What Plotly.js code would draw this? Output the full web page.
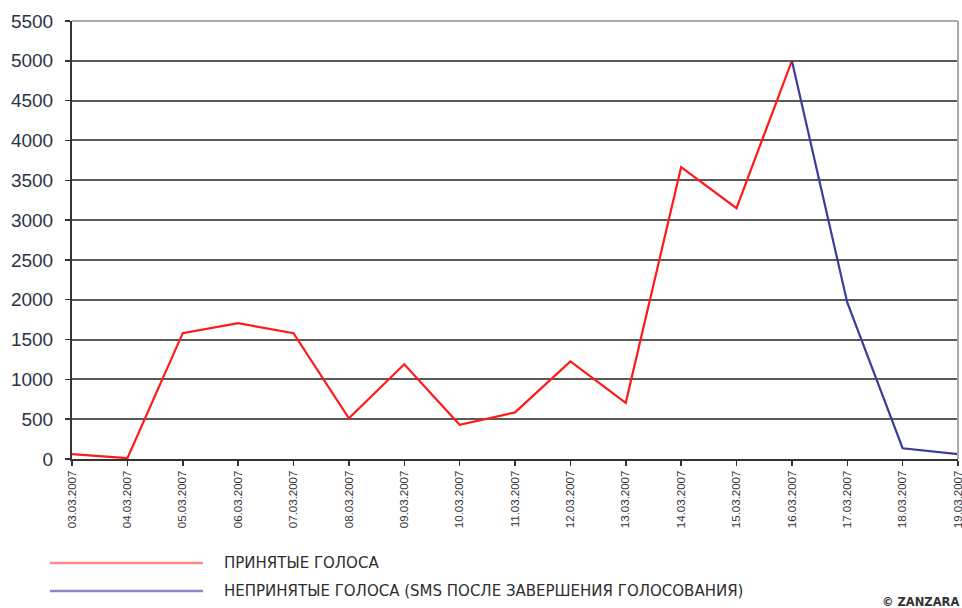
<!DOCTYPE html>
<html>
<head>
<meta charset="utf-8">
<script src="https://cdn.plot.ly/plotly-3.0.1.min.js"></script>
<style>html,body{margin:0;padding:0;background:#fff;}#chart{width:962px;height:608px;}</style>
</head>
<body>
<div id="chart"></div>
<script>
const dates = ["03.03.2007","04.03.2007","05.03.2007","06.03.2007","07.03.2007","08.03.2007","09.03.2007","10.03.2007","11.03.2007","12.03.2007","13.03.2007","14.03.2007","15.03.2007","16.03.2007","17.03.2007","18.03.2007","19.03.2007"];
const acceptedDates = ["03.03.2007","04.03.2007","05.03.2007","06.03.2007","07.03.2007","08.03.2007","09.03.2007","10.03.2007","11.03.2007","12.03.2007","13.03.2007","14.03.2007","15.03.2007","16.03.2007"];
const acceptedVotes = [60, 10, 1580, 1705, 1580, 510, 1190, 430, 585, 1225, 705, 3665, 3150, 5000];
const rejectedDates = ["16.03.2007","17.03.2007","18.03.2007","19.03.2007"];
const rejectedVotes = [5000, 1965, 135, 60];
const legendNames = ["ПРИНЯТЫЕ ГОЛОСА", "НЕПРИНЯТЫЕ ГОЛОСА (SMS ПОСЛЕ ЗАВЕРШЕНИЯ ГОЛОСОВАНИЯ)"];
const yTicks = [0,500,1000,1500,2000,2500,3000,3500,4000,4500,5000,5500];

const traces = [
  {x: acceptedDates, y: acceptedVotes, type: 'scatter', mode: 'lines', name: legendNames[0],
   line: {color: '#ff1a1a', width: 2.2}},
  {x: rejectedDates, y: rejectedVotes, type: 'scatter', mode: 'lines', name: legendNames[1],
   line: {color: '#3c3c9a', width: 2.2}}
];

const legendFont = {family: 'DejaVu Sans, sans-serif', size: 15, color: '#2e2e2e'};

const layout = {
  width: 962, height: 608,
  margin: {l: 72, r: 4, t: 21, b: 149},
  paper_bgcolor: '#fff', plot_bgcolor: '#fff',
  showlegend: false,
  font: {family: 'Liberation Sans, Arial, sans-serif', color: '#333'},
  xaxis: {
    type: 'category', categoryorder: 'array', categoryarray: dates,
    range: [0, dates.length - 1], tickangle: -90,
    tickfont: {size: 11.5, color: '#333'},
    ticks: 'outside', ticklen: 5, tickcolor: '#333', tickwidth: 1.5,
    showgrid: false, showline: true, linecolor: '#333', linewidth: 2,
    zeroline: false, fixedrange: true
  },
  yaxis: {
    range: [0, 5500], tickmode: 'array', tickvals: yTicks,
    tickfont: {size: 19, color: '#2b3346'},
    ticks: 'outside', ticklen: 5, tickcolor: '#333', tickwidth: 1.5,
    ticklabelstandoff: 8,
    showgrid: true, gridcolor: '#5a5a5a', gridwidth: 2,
    showline: true, linecolor: '#333', linewidth: 2, zeroline: false
  },
  shapes: [
    {type: 'line', xref: 'paper', yref: 'paper', x0: 0, x1: 1, y0: 1, y1: 1, line: {color: '#aaaaaa', width: 2}},
    {type: 'line', xref: 'paper', yref: 'paper', x0: 1, x1: 1, y0: 0, y1: 1, line: {color: '#aaaaaa', width: 2}},
    {type: 'line', xref: 'paper', yref: 'paper', x0: (50-72)/886, x1: (203-72)/886, y0: -(563-459)/438, y1: -(563-459)/438, line: {color: '#ff8a8a', width: 2.5}},
    {type: 'line', xref: 'paper', yref: 'paper', x0: (50-72)/886, x1: (203-72)/886, y0: -(591-459)/438, y1: -(591-459)/438, line: {color: '#8a8ac8', width: 2.5}}
  ],
  annotations: [
    {text: legendNames[0], xref: 'paper', yref: 'paper', x: (222-72)/886, y: -(563-459)/438, xanchor: 'left', yanchor: 'middle', showarrow: false, font: legendFont},
    {text: legendNames[1], xref: 'paper', yref: 'paper', x: (222-72)/886, y: -(591-459)/438, xanchor: 'left', yanchor: 'middle', showarrow: false, font: legendFont},
    {text: '<b>© ZANZARA</b>', xref: 'paper', yref: 'paper', x: (961-72)/886, y: -(602-459)/438, xanchor: 'right', yanchor: 'middle', showarrow: false, font: {family: 'DejaVu Sans, sans-serif', size: 11.5, color: '#333'}}
  ]
};

Plotly.newPlot('chart', traces, layout, {displayModeBar: false, staticPlot: true});
</script>
</body>
</html>
